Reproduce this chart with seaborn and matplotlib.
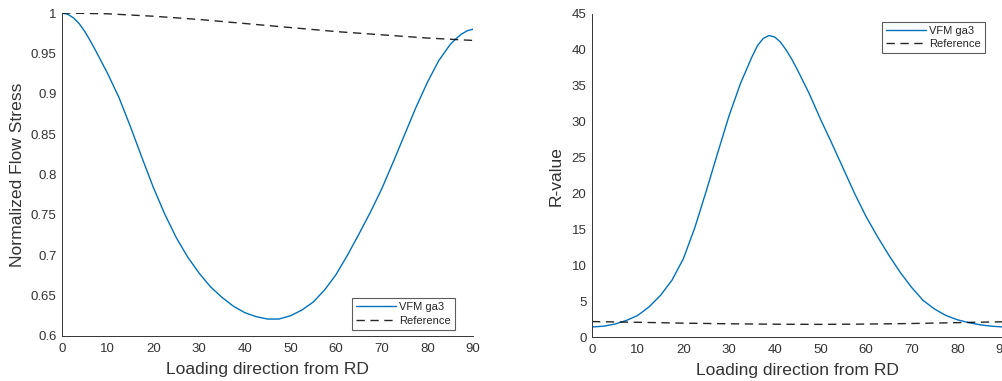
import matplotlib
matplotlib.use("Agg")
import matplotlib.pyplot as plt
import seaborn as sns
import pandas as pd

# Loading direction (degrees from RD), denser near both ends
angles = [0, 1.25, 2.5, 3.75, 5, 6.25, 7.5, 10, 12.5, 15, 17.5, 20, 22.5, 25,
          27.5, 30, 32.5, 35, 37.5, 40, 42.5, 45, 47.5, 50, 52.5, 55, 57.5, 60,
          62.5, 65, 67.5, 70, 72.5, 75, 77.5, 80, 82.5, 85, 86.25, 87.5, 88.75, 90]

# Normalized flow stress, VFM ga3
flow_vfm = [1.000, 0.9985, 0.994, 0.987, 0.977, 0.965, 0.952, 0.925, 0.895, 0.859,
            0.821, 0.784, 0.751, 0.722, 0.698, 0.678, 0.661, 0.648, 0.637, 0.629,
            0.624, 0.621, 0.621, 0.625, 0.632, 0.642, 0.657, 0.676, 0.700, 0.726,
            0.753, 0.782, 0.815, 0.849, 0.883, 0.914, 0.941, 0.961, 0.968, 0.974,
            0.978, 0.980]

# R-value, VFM ga3 (denser around the peak)
r_angles = [0, 2.5, 5, 7.5, 10, 12.5, 15, 17.5, 20, 22.5, 25, 27.5, 30, 32.5, 35,
            36.25, 37.5, 38.75, 40, 41.25, 42.5, 43.75, 45, 47.5, 50, 52.5, 55,
            57.5, 60, 62.5, 65, 67.5, 70, 72.5, 75, 77.5, 80, 82.5, 85, 87.5, 90]
r_vfm = [1.4, 1.5, 1.8, 2.3, 3.0, 4.2, 5.8, 7.9, 10.9, 15.2, 20.3, 25.6, 30.8,
         35.3, 39.0, 40.6, 41.6, 42.0, 41.8, 41.1, 40.0, 38.7, 37.2, 34.0, 30.4,
         27.0, 23.5, 20.0, 16.8, 14.0, 11.4, 9.0, 6.9, 5.1, 3.9, 3.0, 2.4, 2.0,
         1.7, 1.5, 1.4]

# Reference curves
ref_angles = [0, 10, 20, 30, 40, 50, 60, 70, 80, 90]
flow_ref = [1.000, 0.999, 0.996, 0.992, 0.987, 0.982, 0.977, 0.973, 0.969, 0.966]
r_ref = [2.15, 2.05, 1.93, 1.84, 1.78, 1.76, 1.80, 1.88, 2.00, 2.12]

x_ticks = [0, 10, 20, 30, 40, 50, 60, 70, 80, 90]
flow_ticks = [0.6, 0.65, 0.7, 0.75, 0.8, 0.85, 0.9, 0.95, 1.0]
flow_ticklabels = ["0.6", "0.65", "0.7", "0.75", "0.8", "0.85", "0.9", "0.95", "1"]
r_ticks = [0, 5, 10, 15, 20, 25, 30, 35, 40, 45]

sns.set_style("white")
plt.rcParams["font.family"] = ["Liberation Sans", "DejaVu Sans"]

blue = "#0072BD"
gray = "#333333"

flow_df = pd.DataFrame({"angle": angles, "flow": flow_vfm})
r_df = pd.DataFrame({"angle": r_angles, "r": r_vfm})
ref_df = pd.DataFrame({"angle": ref_angles, "flow": flow_ref, "r": r_ref})

fig = plt.figure(figsize=(10.03, 3.81), dpi=100)
ax1 = fig.add_axes([62 / 1003, 45 / 381, 411 / 1003, 323 / 381])
ax2 = fig.add_axes([592 / 1003, 44 / 381, 411 / 1003, 323 / 381])


def style_axes(ax):
    for side in ("top", "right"):
        ax.spines[side].set_visible(False)
    for side in ("left", "bottom"):
        ax.spines[side].set_color(gray)
        ax.spines[side].set_linewidth(0.7)
    ax.tick_params(direction="in", length=4, width=0.7, colors=gray,
                   labelsize=9.5)
    ax.tick_params(axis="x", pad=5)
    ax.tick_params(axis="y", pad=4)
    ax.set_xlabel("Loading direction from RD", fontsize=12.6, color=gray,
                  labelpad=5)


def style_legend(leg):
    leg.get_frame().set_edgecolor(gray)
    leg.get_frame().set_linewidth(0.8)


legend_kw = dict(fontsize=8, frameon=True, fancybox=False, handlelength=3.6,
                 borderpad=0.35, labelspacing=0.3, handletextpad=0.3,
                 borderaxespad=0)

# Left panel: normalized flow stress
sns.lineplot(data=flow_df, x="angle", y="flow", ax=ax1, color=blue, linewidth=1.0,
             label="VFM ga3")
sns.lineplot(data=ref_df, x="angle", y="flow", ax=ax1, color="black", linewidth=1.0,
             linestyle=(0, (6, 4)), label="Reference", alpha=0.85)
ax1.set_xlim(0, 90)
ax1.set_ylim(0.6, 1.0)
ax1.set_xticks(x_ticks)
ax1.set_yticks(flow_ticks)
ax1.set_yticklabels(flow_ticklabels)
style_axes(ax1)
ax1.set_ylabel("Normalized Flow Stress", fontsize=12.6, color=gray, labelpad=4)
leg1 = ax1.legend(loc="lower right", bbox_to_anchor=(0.955, 0.02), **legend_kw)
style_legend(leg1)

# Right panel: R-value
sns.lineplot(data=r_df, x="angle", y="r", ax=ax2, color=blue, linewidth=1.0,
             label="VFM ga3")
sns.lineplot(data=ref_df, x="angle", y="r", ax=ax2, color="black", linewidth=1.0,
             linestyle=(0, (6, 4)), label="Reference", alpha=0.85)
ax2.set_xlim(0, 90)
ax2.set_ylim(0, 45)
ax2.set_xticks(x_ticks)
ax2.set_yticks(r_ticks)
style_axes(ax2)
ax2.set_ylabel("R-value", fontsize=12.6, color=gray, labelpad=6)
leg2 = ax2.legend(loc="upper right", bbox_to_anchor=(0.955, 0.975), **legend_kw)
style_legend(leg2)

fig.savefig("out.png", dpi=100)
